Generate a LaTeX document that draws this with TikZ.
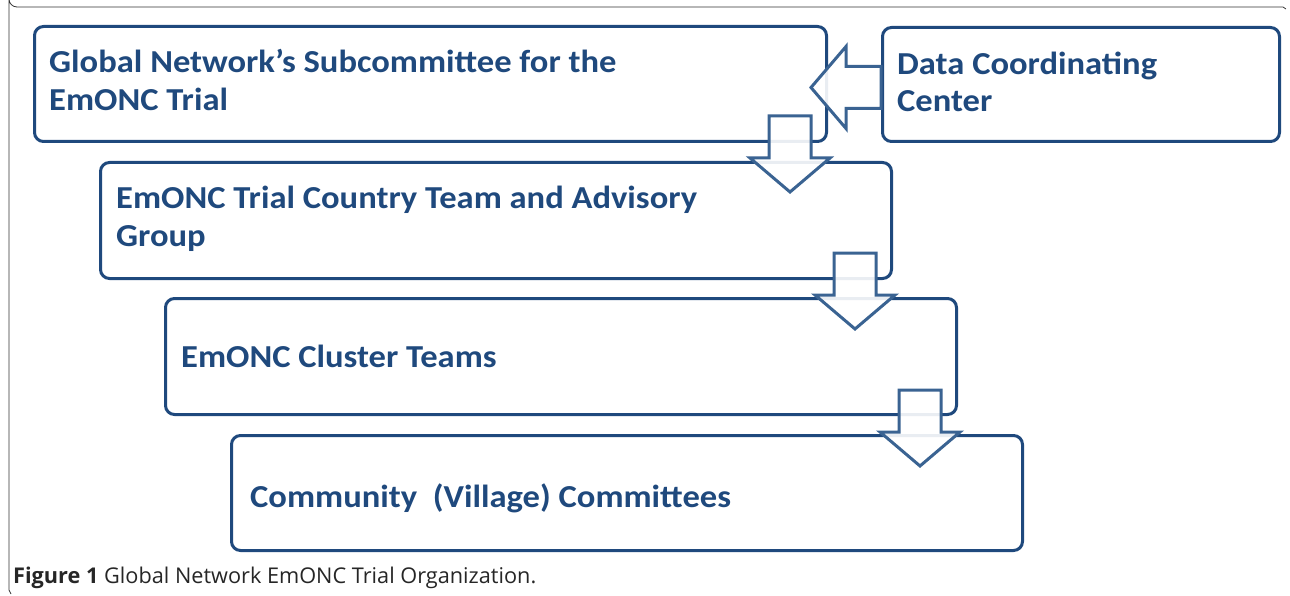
\documentclass[tikz,border=0pt]{standalone}
\usepackage{fontspec}
\setmainfont[FakeStretch=1.08]{Carlito}
\newfontfamily\capfont{Open Sans}
\definecolor{boxblue}{HTML}{1F497D}
\definecolor{arrblue}{HTML}{3A6392}
\definecolor{txtblue}{HTML}{1F497D}
\definecolor{framegray}{HTML}{333333}
\begin{document}
\begin{tikzpicture}[x=1pt,y=-1pt,
  box/.style={draw=boxblue, line width=3pt, rounded corners=9pt, inner sep=0pt, anchor=north west},
  blockarrow/.style={draw=arrblue, line width=3pt, fill=white, fill opacity=0.9, miter limit=10},
  lbl/.style={text=txtblue, font=\bfseries\fontsize{32}{38}\selectfont, inner sep=0pt, anchor=base west},
  darr/.pic={\draw[blockarrow] (-21,0) -- (21,0) -- (21,42) -- (40,42) -- (0,76) -- (-40,42) -- (-21,42) -- cycle;},
  larr/.pic={\draw[blockarrow] (0,-21) -- (-35,-21) -- (-35,-41) -- (-70,0) -- (-35,41) -- (-35,21) -- (0,21) -- cycle;}
]
\useasboundingbox (0,0) rectangle (1290,596);
% outer frame
\draw[framegray, line width=0.8pt] (1286,9) -- (1283,7) -- (17,7) arc[start angle=90, end angle=180, radius=8] -- (9,590) -- (11,594);
% boxes
\node[box, minimum width=792pt, minimum height=115pt] (b1) at (33,25) {};
\node[box, minimum width=397pt, minimum height=114pt] (dcc) at (881,26) {};
\node[box, minimum width=791pt, minimum height=116pt] (b2) at (99,161) {};
\node[box, minimum width=791pt, minimum height=116pt] (b3) at (164,297) {};
\node[box, minimum width=791pt, minimum height=115pt] (b4) at (230,434) {};
% labels
\node[lbl] (t1a) at (49,73) {Global Network’s Subcommittee for the};
\node[lbl] (t1b) at (49,111) {EmONC Trial};
\node[lbl] (t5a) at (897,75) {Data Coordinating};
\node[lbl] (t5b) at (897,112) {Center};
\node[lbl] (t2a) at (116,208) {EmONC Trial Country Team and Advisory};
\node[lbl] (t2b) at (116,246) {Group};
\node[lbl] (t3) at (181,367) {EmONC Cluster Teams};
\node[lbl] (t4) at (250,507) {Community\ \ (Village) Committees};
% block arrows
\pic at ([shift={(0,3)}]dcc.west) {larr};
\pic at ([shift={(-38,-27)}]b1.south east) {darr};
\pic at ([shift={(-38,-27)}]b2.south east) {darr};
\pic at ([shift={(-38,-26)}]b3.south east) {darr};
% caption
\node[inner sep=0pt, anchor=base west, font=\capfont\fontsize{21.7}{26}\selectfont, text=black!85] (cap) at (13,583) {\textbf{Figure 1} Global Network EmONC Trial Organization.};
\end{tikzpicture}
\end{document}
